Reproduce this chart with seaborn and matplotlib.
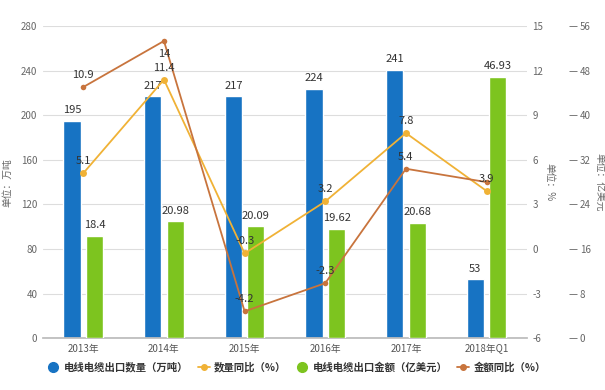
import numpy as np
import pandas as pd
import matplotlib
matplotlib.use("Agg")
import matplotlib.pyplot as plt
import seaborn as sns
from matplotlib.lines import Line2D

# -----------------------------
# Data
# -----------------------------

years = ["2013年", "2014年", "2015年", "2016年", "2017年", "2018年Q1"]
qty = [195, 217, 217, 224, 241, 53]                   # 万吨
amount = [18.4, 20.98, 20.09, 19.62, 20.68, 46.93]    # 亿美元
qty_yoy = [5.1, 11.4, -0.3, 3.2, 7.8, 3.9]            # %
amt_yoy = [10.9, 14, -4.2, -2.3, 5.4, 4.5]            # %

s_qty = "电线电缆出口数量（万吨）"
s_qyoy = "数量同比（%）"
s_amt = "电线电缆出口金额（亿美元）"
s_ayoy = "金额同比（%）"

c_blue = "#1773c3"
c_green = "#7dc41f"
c_gold = "#f0b236"
c_brown = "#c8743d"

sns.set_theme(style="white")
plt.rcParams["font.family"] = ["Noto Sans CJK SC", "DejaVu Sans"]
plt.rcParams["axes.unicode_minus"] = False

df_qty = pd.DataFrame({"year": years, "value": qty, "series": s_qty})
df_amt = pd.DataFrame({"year": years, "value": amount, "series": s_amt})

fig = plt.figure(figsize=(6.05, 3.9), dpi=100)
ax = fig.add_axes([0.071, 0.133, 0.800, 0.800])
ax3 = ax.twinx()
ax2 = ax.twinx()

pal = {s_qty: c_blue, s_amt: c_green}

# -----------------------------
# Bars
# -----------------------------

sns.barplot(data=df_qty, x="year", y="value", hue="series", hue_order=[s_qty, s_amt],
            palette=pal, dodge=True, width=0.56, gap=0.24, ax=ax, legend=False,
            saturation=1)
sns.barplot(data=df_amt, x="year", y="value", hue="series", hue_order=[s_qty, s_amt],
            palette=pal, dodge=True, width=0.56, gap=0.24, ax=ax3, legend=False,
            saturation=1)


def label_bars(a, vals):
    for cont in a.containers:
        if len(cont) != len(vals) or any(p is None for p in cont):
            continue
        a.bar_label(cont, labels=[f"{v:g}" for v in vals], padding=4,
                    fontsize=8, color="#333333")


label_bars(ax, qty)
label_bars(ax3, amount)

# -----------------------------
# Lines
# -----------------------------

xpos = np.arange(len(years))
sns.lineplot(x=xpos, y=qty_yoy, ax=ax2, color=c_gold, marker="o", markersize=5,
             markeredgewidth=0, linewidth=1.3)
sns.lineplot(x=xpos, y=amt_yoy, ax=ax2, color=c_brown, marker="o", markersize=4,
             markeredgewidth=0, linewidth=1.3)

for i, v in enumerate(qty_yoy):
    ax2.annotate(f"{v:g}", (xpos[i], v), xytext=(0, 5), textcoords="offset points",
                 ha="center", va="bottom", fontsize=8, color="#333333")
for i, v in enumerate(amt_yoy[:-1]):
    dy = -13 if i == 1 else 5
    ax2.annotate(f"{v:g}", (xpos[i], v), xytext=(0, dy), textcoords="offset points",
                 ha="center", va="bottom", fontsize=8, color="#333333")

# -----------------------------
# Axes styling
# -----------------------------

ax.set_ylim(0, 280)
ax.set_yticks(range(0, 281, 40))
ax2.set_ylim(-6, 15)
ax2.set_yticks(range(-6, 16, 3))
ax3.set_ylim(0, 56)
ax3.set_yticks(range(0, 57, 8))
ax.set_xlim(-0.5, len(years) - 0.5)

ax.yaxis.grid(True, color="#dddddd", linewidth=0.8)
ax.set_axisbelow(True)

for a in (ax, ax2, ax3):
    for sp in a.spines.values():
        sp.set_visible(False)
    a.tick_params(axis="y", labelsize=7, colors="#666666", length=0, pad=4)

ax.spines["bottom"].set_visible(True)
ax.spines["bottom"].set_color("#bbbbbb")
ax.tick_params(axis="x", labelsize=7, colors="#555555", length=0, pad=4)
ax.set_xlabel("")

ax3.spines["right"].set_position(("outward", 30))
ax3.tick_params(axis="y", length=6, width=0.6, colors="#666666", pad=2)

ax.set_ylabel("单位：万吨", fontsize=7, color="#666666", labelpad=6)
ax2.set_ylabel("单位：%", fontsize=7, color="#666666", rotation=-90, labelpad=8)
ax3.set_ylabel("单位：亿美元", fontsize=7, color="#666666", rotation=-90, labelpad=10)

# -----------------------------
# Legend
# -----------------------------

handles = [
    Line2D([], [], linestyle="none", marker="o", markersize=7, color=c_blue),
    Line2D([], [], color=c_gold, marker="o", markersize=4, linewidth=1.3),
    Line2D([], [], linestyle="none", marker="o", markersize=7, color=c_green),
    Line2D([], [], color=c_brown, marker="o", markersize=4, linewidth=1.3),
]
fig.legend(handles, [s_qty, s_qyoy, s_amt, s_ayoy], loc="center",
           bbox_to_anchor=(0.49, 0.058), ncol=4, frameon=False,
           prop={"size": 7.5, "weight": "bold"},
           handlelength=1.2, handletextpad=0.4, columnspacing=0.9,
           labelcolor="#333333")

fig.savefig("out.png", dpi=100, facecolor="white")
